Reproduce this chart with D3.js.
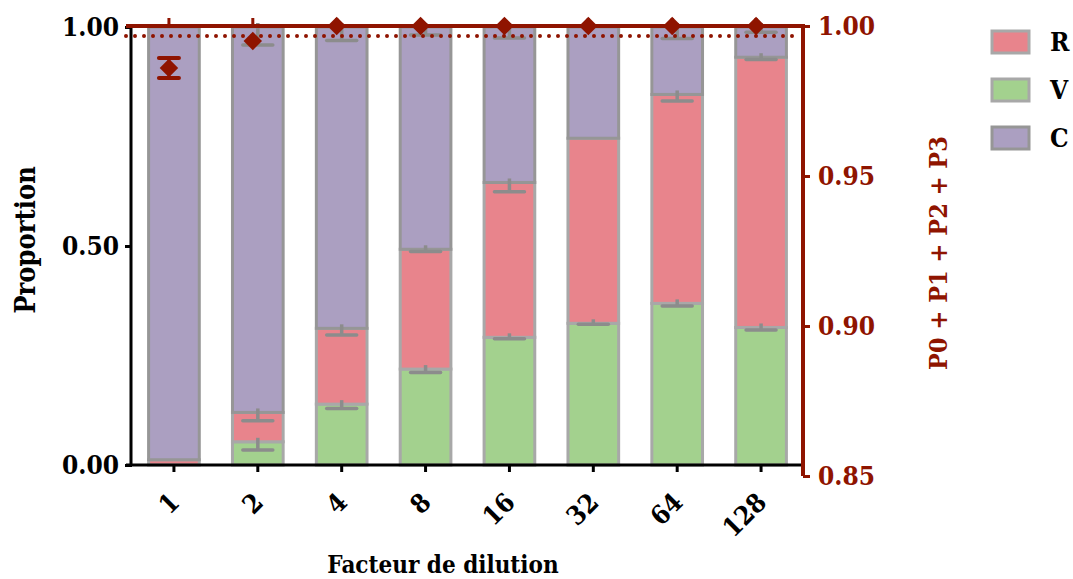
<!DOCTYPE html>
<html><head><meta charset="utf-8">
<script src="https://cdn.jsdelivr.net/npm/d3@7"></script>
<style>body{margin:0;background:#fff}svg{display:block}text{font-family:"DejaVu Serif Condensed","DejaVu Serif",serif;font-stretch:condensed;font-weight:bold}</style>
</head><body>
<svg id="c" width="1073" height="579"></svg>
<script>
const categories = ["1","2","4","8","16","32","64","128"];
const valV = [0.0, 0.053, 0.139, 0.219, 0.2915, 0.3235, 0.369, 0.314];
const valR = [0.012, 0.067, 0.173, 0.2735, 0.3535, 0.4225, 0.477, 0.617];
const valC = [0.988, 0.880, 0.688, 0.5075, 0.355, 0.254, 0.154, 0.069];
const errV = [0.0, 0.019, 0.01, 0.008, 0.003, 0.002, 0.006, 0.006];
const errR = [0.0, 0.019, 0.015, 0.005, 0.021, 0.0, 0.015, 0.005];
const errC = [0.0, 0.041, 0.031, 0.018, 0.025, 0.0, 0.026, 0.012];
const sumP = [0.986, 0.995, 1.0, 1.0, 1.0, 1.0, 1.0, 1.0];
const sumErr = [0.0033, 0, 0, 0, 0, 0, 0, 0];
const threshold = 0.9967;
const leftTicks = [0, 0.5, 1.0];
const rightTicks = [0.85, 0.90, 0.95, 1.00];
const seriesNames = ["R","V","C"];

const RED="#8f1400", cR="#e8848c", cV="#a3d18e", cC="#ab9fc1";
const FONT = '"DejaVu Serif Condensed","DejaVu Serif",serif';
const svg = d3.select("#c");
const x = d3.scaleBand().domain(categories).range([132,803]).paddingInner(0.36).paddingOuter(0.18);
const yL = d3.scaleLinear().domain([0,1]).range([465,27]);
const yR = d3.scaleLinear().domain([0.85,1.0]).range([476,26]);
const bw = x.bandwidth();

const rows = categories.map((c,i)=>({c, V:valV[i], R:valR[i], C:valC[i], eV:errV[i], eR:errR[i], eC:errC[i]}));
const stack = d3.stack().keys(["V","R","C"])(rows);
const colors = {V:cV, R:cR, C:cC};
const strokes = {V:"#a8a8a8", R:"#a8a8a8", C:"#969696"};
const errs = {V:"eV", R:"eR", C:"eC"};

stack.forEach(layer=>{
  const k = layer.key;
  const g = svg.append("g");
  g.selectAll("rect").data(layer).join("rect")
    .attr("x", d=>x(d.data.c)+1.5)
    .attr("y", d=>yL(d[1]))
    .attr("width", bw-3)
    .attr("height", d=>Math.max(0,yL(d[0])-yL(d[1])))
    .attr("fill", colors[k]).attr("stroke", strokes[k]).attr("stroke-width",3);
});
// error bars (downward)
stack.forEach(layer=>{
  const k = layer.key;
  const g = svg.append("g").attr("stroke","#8c8c8c").attr("stroke-width",3.5);
  layer.forEach(d=>{
    const e = d.data[errs[k]];
    if (e<=0.0005) return;
    const cx = x(d.data.c)+bw/2;
    g.append("line").attr("x1",cx).attr("x2",cx).attr("y1",yL(d[1])-4).attr("y2",yL(d[1]-e));
    g.append("line").attr("x1",cx-15).attr("x2",cx+15).attr("y1",yL(d[1]-e)).attr("y2",yL(d[1]-e)).attr("stroke-linecap","round");
  });
});

function styleText(sel, size, fill){
  sel.attr("font-size",size).attr("fill",fill).attr("font-family",FONT).attr("font-weight","bold").style("font-stretch","condensed");
}

// left axis
const axL = svg.append("g").attr("transform","translate(132,0)")
  .call(d3.axisLeft(yL).tickValues(leftTicks).tickFormat(d3.format(".2f")).tickSize(7).tickPadding(6));
axL.select(".domain").attr("stroke","#000").attr("stroke-width",3).attr("d","M-1,465V26");
axL.selectAll(".tick line").attr("stroke","#000").attr("stroke-width",3);
styleText(axL.selectAll(".tick text"), 26, "#000");

// x axis
const axX = svg.append("g").attr("transform","translate(0,465)")
  .call(d3.axisBottom(x).tickSize(7).tickSizeOuter(0));
axX.select(".domain").attr("stroke","#000").attr("stroke-width",3).attr("d","M126,0H803");
axX.selectAll(".tick line").attr("stroke","#000").attr("stroke-width",3);
styleText(axX.selectAll(".tick text"), 26, "#000");
axX.selectAll(".tick text").attr("text-anchor","end").attr("dy",0).attr("y",0)
  .attr("transform","translate(7,39) rotate(-45)");

// dotted threshold line
svg.append("line").attr("x1",126).attr("x2",800).attr("y1",yR(threshold)).attr("y2",yR(threshold))
  .attr("stroke",RED).attr("stroke-width",4).attr("stroke-dasharray","0 9").attr("stroke-linecap","round");

// top red line + ticks
const dx = -5;
svg.append("line").attr("x1",126).attr("x2",805).attr("y1",yR(1)).attr("y2",yR(1)).attr("stroke",RED).attr("stroke-width",4);
svg.append("g").selectAll("line").data(categories).join("line")
  .attr("x1",d=>x(d)+bw/2+dx).attr("x2",d=>x(d)+bw/2+dx).attr("y1",yR(1)).attr("y2",yR(1)-8)
  .attr("stroke",RED).attr("stroke-width",3);

// right axis
const axR = svg.append("g").attr("transform","translate(803,0)")
  .call(d3.axisRight(yR).tickValues(rightTicks).tickFormat(d3.format(".2f")).tickSize(7).tickPadding(8));
axR.select(".domain").attr("stroke",RED).attr("stroke-width",4).attr("d","M0,476V26");
axR.selectAll(".tick line").attr("stroke",RED).attr("stroke-width",3);
styleText(axR.selectAll(".tick text"), 26, RED);

// sum diamonds with error
const pts = svg.append("g");
sumP.forEach((v,i)=>{
  const cx = x(categories[i])+bw/2+dx, cy = yR(v);
  if (sumErr[i]>0){
    const e = sumErr[i];
    pts.append("line").attr("x1",cx).attr("x2",cx).attr("y1",yR(v+e)).attr("y2",yR(v-e)).attr("stroke",RED).attr("stroke-width",3);
    [v+e, v-e].forEach(t=>pts.append("line").attr("x1",cx-10).attr("x2",cx+10).attr("y1",yR(t)).attr("y2",yR(t))
      .attr("stroke",RED).attr("stroke-width",4).attr("stroke-linecap","round"));
  }
  pts.append("path").attr("d",d3.symbol(d3.symbolSquare, 170)())
    .attr("transform",`translate(${cx},${cy}) rotate(45)`).attr("fill",RED);
});

// titles
styleText(svg.append("text").attr("x",443).attr("y",573).attr("text-anchor","middle").text("Facteur de dilution"), 24, "#000");
styleText(svg.append("text").attr("transform","translate(35,240) rotate(-90)").attr("text-anchor","middle").text("Proportion"), 27, "#000");
styleText(svg.append("text").attr("transform","translate(947,253) rotate(-90)").attr("text-anchor","middle").text("P0 + P1 + P2 + P3"), 25, RED);

// legend
const lg = svg.append("g");
const legColors = {R:cR, V:cV, C:cC};
seriesNames.forEach((s,i)=>{
  const yy = 31 + i*48;
  lg.append("rect").attr("x",992).attr("y",yy).attr("width",37).attr("height",22)
    .attr("fill",legColors[s]).attr("stroke", s==="C"?"#969696":"#a8a8a8").attr("stroke-width",3);
  styleText(lg.append("text").attr("x",1050).attr("y",yy+20).text(s), 26, "#000");
});
</script>
</body></html>
